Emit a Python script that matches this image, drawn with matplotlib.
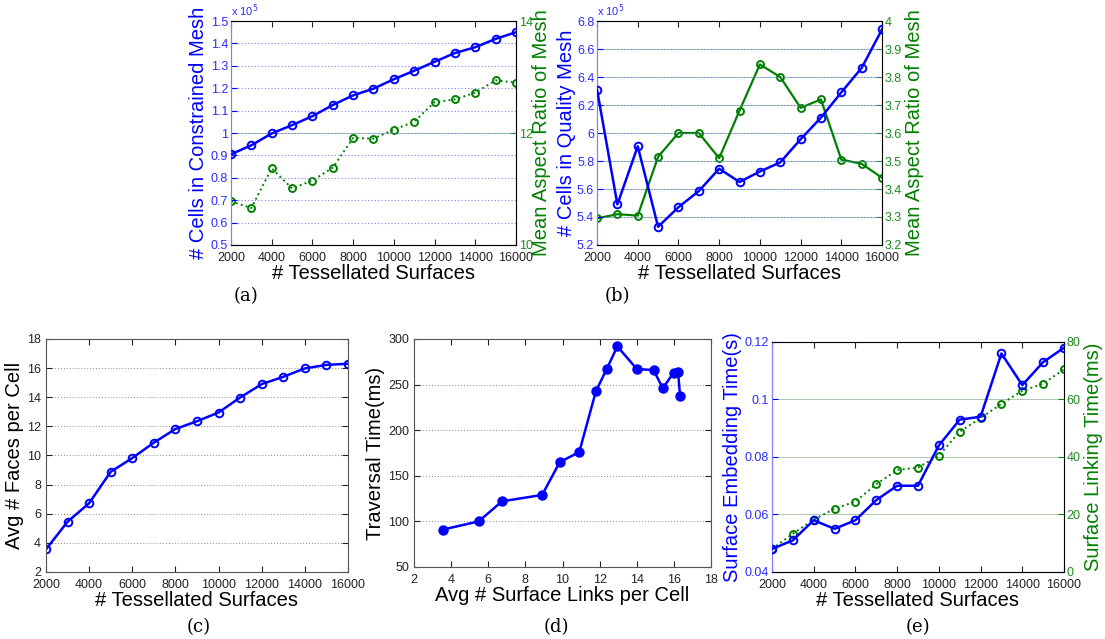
import matplotlib
matplotlib.use("Agg")
import matplotlib.pyplot as plt
from matplotlib.ticker import FuncFormatter, MultipleLocator

plt.rcParams.update({
    "font.family": ["Liberation Sans", "DejaVu Sans"],
    "xtick.direction": "in",
    "ytick.direction": "in",
    "xtick.labelsize": 9,
    "ytick.labelsize": 9,
    "xtick.major.pad": 5,
})

# ---- data -------------------------------------------------------------
surfaces = [2000, 3000, 4000, 5000, 6000, 7000, 8000, 9000, 10000,
            11000, 12000, 13000, 14000, 15000, 16000]

# (a) constrained mesh: cells (x 1e5) and mean aspect ratio
cells_constrained = [0.905, 0.945, 0.998, 1.035, 1.075, 1.125, 1.168, 1.198,
                     1.240, 1.278, 1.318, 1.357, 1.383, 1.420, 1.450]
aspect_constrained = [10.78, 10.66, 11.37, 11.01, 11.15, 11.38, 11.91, 11.90,
                      12.06, 12.20, 12.55, 12.60, 12.72, 12.94, 12.90]

# (b) quality mesh: cells (x 1e5) and mean aspect ratio
cells_quality = [6.31, 5.49, 5.905, 5.33, 5.47, 5.585, 5.745, 5.65,
                 5.725, 5.79, 5.955, 6.11, 6.29, 6.465, 6.74]
aspect_quality = [3.295, 3.31, 3.305, 3.515, 3.60, 3.60, 3.51, 3.68,
                  3.845, 3.80, 3.69, 3.72, 3.505, 3.49, 3.44]

# (c) faces per cell
faces_per_cell = [3.55, 5.45, 6.72, 8.88, 9.82, 10.88, 11.82, 12.35,
                  12.95, 13.98, 14.90, 15.40, 15.98, 16.22, 16.30]

# (d) traversal time vs surface links per cell
links_per_cell = [3.55, 5.48, 6.74, 8.90, 9.85, 10.90, 11.80, 12.38,
                  12.95, 14.00, 14.90, 15.40, 15.98, 16.22, 16.33]
traversal_ms = [91, 100, 122, 129, 165, 176, 243, 267,
                292, 267, 266, 246, 263, 264, 238]

# (e) embedding time (s) and linking time (ms)
embed_s = [0.048, 0.051, 0.058, 0.055, 0.058, 0.065, 0.070, 0.070,
           0.084, 0.093, 0.094, 0.116, 0.105, 0.113, 0.118]
link_ms = [8.0, 13.3, 18.2, 22.0, 24.5, 30.5, 35.5, 36.3,
           40.5, 48.8, 53.5, 58.5, 63.0, 65.5, 70.5]

BLUE = "#0000ff"
GREEN = "#008000"
TICK_BLUE = "#2b2bff"
TICK_GREEN = "#1f8a1f"
GRID_DOT = (0, (1, 2))
LABEL_SIZE = 14.5

fmt_g = FuncFormatter(lambda v, _: f"{v:g}")


def style_single(ax):
    ax.tick_params(top=True, right=True, length=4, colors="#222222")
    for s in ax.spines.values():
        s.set_color("#555555")
        s.set_linewidth(0.8)
    ax.yaxis.grid(True, color="#888888", ls=GRID_DOT, lw=0.7)
    ax.set_axisbelow(True)
    ax.xaxis.set_major_formatter(fmt_g)
    ax.yaxis.set_major_formatter(fmt_g)


def twin_panel(rect, x, y1, y2, ylim1, step1, ylim2, step2,
               label1, label2, green_ls, grid2_color, grid1=True,
               pad1=2, pad2=2):
    ax = fig.add_axes(rect)
    ax2 = ax.twinx()
    ax.plot(x, y1, color=BLUE, lw=1.8, marker="o", ms=5.5, mfc="none",
            mew=1.4, zorder=3)
    ax2.plot(x, y2, color=GREEN, lw=1.6 if green_ls == "-" else 1.4,
             ls=green_ls, marker="o", ms=5, mfc="none", mew=1.4)
    ax.set_xlim(2000, 16000)
    ax.set_ylim(*ylim1)
    ax2.set_ylim(*ylim2)
    ax.xaxis.set_major_locator(MultipleLocator(2000))
    ax.yaxis.set_major_locator(MultipleLocator(step1))
    ax2.yaxis.set_major_locator(MultipleLocator(step2))
    ax.xaxis.set_major_formatter(fmt_g)
    ax.yaxis.set_major_formatter(fmt_g)
    ax2.yaxis.set_major_formatter(fmt_g)
    ax.tick_params(axis="x", top=True, length=4, colors="#222222")
    ax.tick_params(axis="y", length=4, pad=2, colors=BLUE,
                   labelcolor=TICK_BLUE)
    ax2.tick_params(axis="y", length=4, pad=2, colors=GREEN,
                    labelcolor=TICK_GREEN)
    ax.spines["left"].set_color("#8080ff")
    ax2.spines["left"].set_color("#8080ff")
    ax2.spines["right"].set_color("#9fd09f")
    ax2.spines["top"].set_color("#8fbf8f")
    ax2.spines["bottom"].set_color("#777777")
    for a in (ax, ax2):
        for s in a.spines.values():
            s.set_linewidth(0.8)
    if grid1:
        ax.yaxis.grid(True, color="#7f7fff", ls=GRID_DOT, lw=0.8)
    ax2.yaxis.grid(True, color=grid2_color, ls="-", lw=0.6, alpha=0.7)
    ax.set_axisbelow(True)
    ax2.set_axisbelow(True)
    ax.set_zorder(ax2.get_zorder() + 1)
    ax.patch.set_visible(False)
    ax.set_xlabel("# Tessellated Surfaces", fontsize=LABEL_SIZE, labelpad=0)
    ax.set_ylabel(label1, fontsize=LABEL_SIZE, color=BLUE, labelpad=pad1)
    ax2.set_ylabel(label2, fontsize=LABEL_SIZE, color=GREEN, labelpad=pad2)
    return ax, ax2


fig = plt.figure(figsize=(11.05, 6.39), dpi=100)

# (a)
ax_a, _ = twin_panel([0.2090, 0.6166, 0.2579, 0.3505], surfaces,
                     cells_constrained, aspect_constrained,
                     (0.5, 1.5), 0.1, (10, 14), 2,
                     "# Cells in Constrained Mesh", "Mean Aspect Ratio of Mesh",
                     ":", "#66aa66", pad2=-0.5)
ax_a.text(0.0, 1.01, r"x 10$^5$", transform=ax_a.transAxes, color=TICK_BLUE,
          fontsize=8, ha="left", va="bottom")

# (b)
ax_b, _ = twin_panel([0.5403, 0.6166, 0.2579, 0.3505], surfaces,
                     cells_quality, aspect_quality,
                     (5.2, 6.8), 0.2, (3.2, 4.0), 0.1,
                     "# Cells in Quality Mesh", "Mean Aspect Ratio of Mesh",
                     "-", "#66aa66", pad1=0.5)
ax_b.text(0.0, 1.01, r"x 10$^5$", transform=ax_b.transAxes, color=TICK_BLUE,
          fontsize=8, ha="left", va="bottom")

# (c)
ax_c = fig.add_axes([0.0416, 0.1049, 0.2733, 0.3646])
ax_c.plot(surfaces, faces_per_cell, color=BLUE, lw=1.8, marker="o", ms=5.5,
          mfc="none", mew=1.4)
ax_c.set_xlim(2000, 16000)
ax_c.set_ylim(2, 18)
ax_c.xaxis.set_major_locator(MultipleLocator(2000))
ax_c.yaxis.set_major_locator(MultipleLocator(2))
style_single(ax_c)
ax_c.set_xlabel("# Tessellated Surfaces", fontsize=LABEL_SIZE, labelpad=0)
ax_c.set_ylabel("Avg # Faces per Cell", fontsize=LABEL_SIZE, labelpad=2)

# (d)
ax_d = fig.add_axes([0.3747, 0.1127, 0.2688, 0.3568])
ax_d.plot(links_per_cell, traversal_ms, color=BLUE, lw=1.8, marker="o",
          ms=6.5, mfc=BLUE)
ax_d.set_xlim(2, 18)
ax_d.set_ylim(50, 300)
ax_d.xaxis.set_major_locator(MultipleLocator(2))
ax_d.yaxis.set_major_locator(MultipleLocator(50))
style_single(ax_d)
ax_d.set_xlabel("Avg # Surface Links per Cell", fontsize=LABEL_SIZE, labelpad=0)
ax_d.set_ylabel("Traversal Time(ms)", fontsize=LABEL_SIZE, labelpad=2)

# (e)
twin_panel([0.6986, 0.1049, 0.2643, 0.3599], surfaces, embed_s, link_ms,
           (0.04, 0.12), 0.02, (0, 80), 20,
           "Surface Embedding Time(s)", "Surface Linking Time(ms)",
           ":", "#7aa07a", grid1=False)

# sub-figure captions
for x, y, s in [(0.2226, 0.522, "(a)"), (0.5584, 0.522, "(b)"),
                (0.1800, 0.004, "(c)"), (0.5032, 0.004, "(d)"),
                (0.8308, 0.004, "(e)")]:
    fig.text(x, y, s, ha="center", va="bottom", fontsize=13,
             family=["DejaVu Serif"])

fig.savefig("out.png", dpi=100)
